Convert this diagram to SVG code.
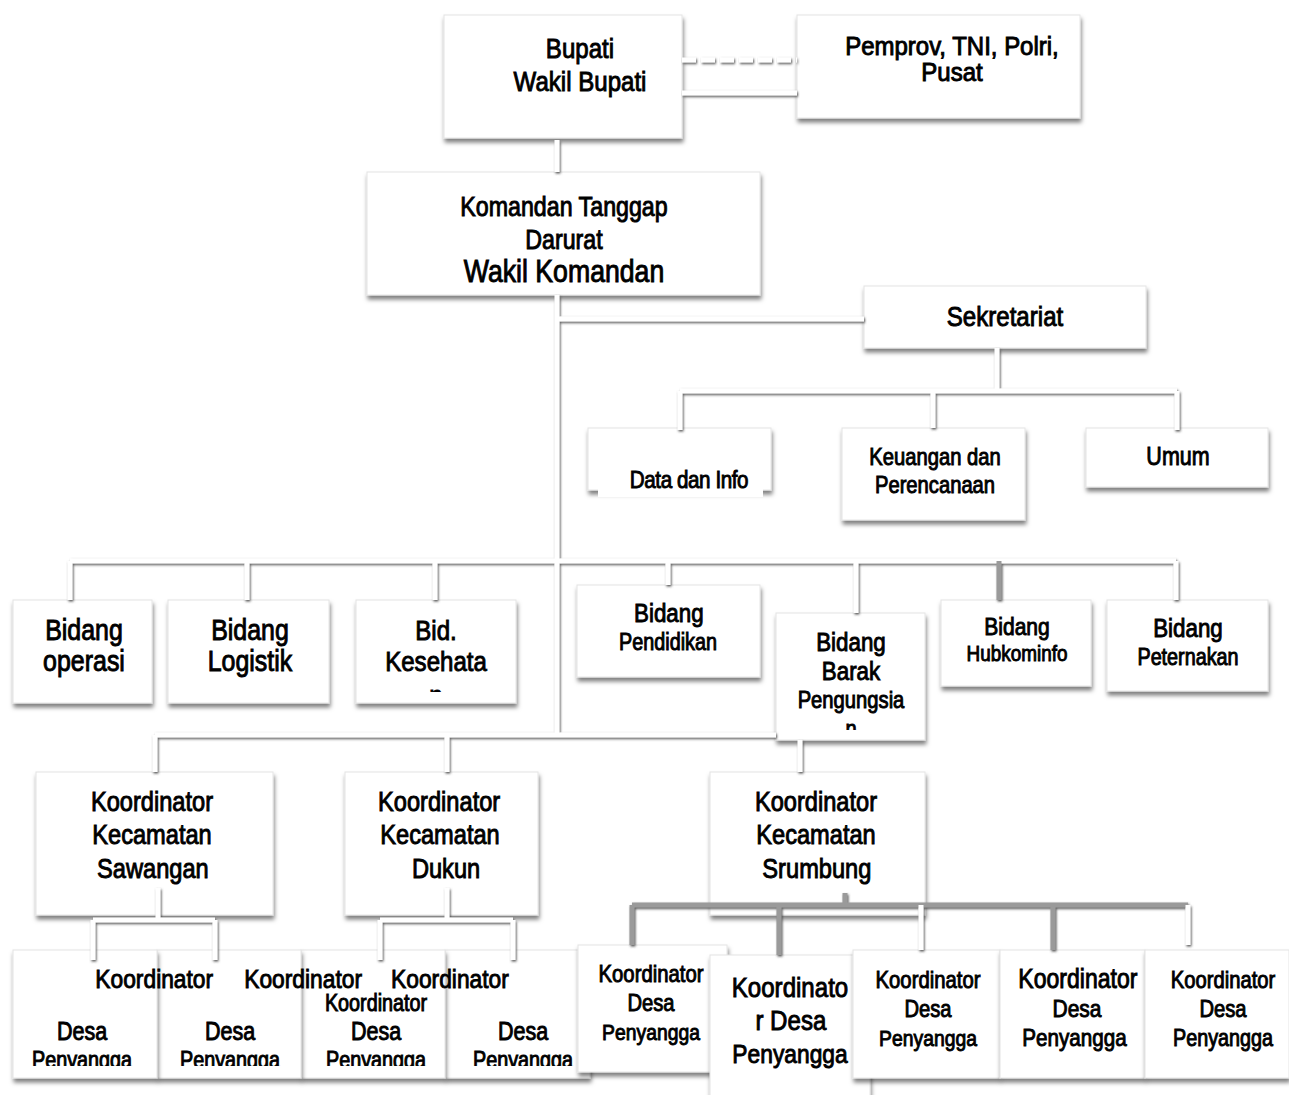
<svg xmlns="http://www.w3.org/2000/svg" width="1289" height="1095" viewBox="0 0 1289 1095">
<style>
.box{fill:#fff;stroke:#e4e4e4;stroke-width:1;filter:url(#bs)}
.t{font-family:"Liberation Sans",Arial,sans-serif;fill:#000;stroke:#000;stroke-width:0.95;text-anchor:middle}
.c{fill:none;stroke:#fff;stroke-width:5;stroke-linecap:butt}
.g{fill:none;stroke:#9a9a9a;stroke-width:5}
</style>
<defs>
<filter id="bs" x="-10%" y="-10%" width="125%" height="130%">
<feDropShadow dx="1" dy="4" stdDeviation="2" flood-color="#000" flood-opacity="0.5"/>
</filter>
<filter id="cs" x="-5%" y="-5%" width="110%" height="110%" filterUnits="userSpaceOnUse">
<feDropShadow dx="1" dy="1.5" stdDeviation="1.2" flood-color="#444" flood-opacity="0.9"/>
</filter>
<clipPath id="clipL"><rect x="0" y="940" width="600" height="126"/></clipPath>
<clipPath id="clipK"><rect x="356" y="600" width="160" height="92"/></clipPath>
<clipPath id="clipB"><rect x="776" y="613" width="149" height="117"/></clipPath>
</defs>

<g id="node-bupati">
<rect class="box" x="444" y="15" width="238" height="123"/>
<text class="t" font-size="28" transform="translate(580 0) scale(0.86 1)"><tspan x="0" y="58">Bupati</tspan><tspan x="0" y="91">Wakil Bupati</tspan></text>
</g>
<g id="node-pemprov">
<rect class="box" x="797" y="15" width="283" height="103"/>
<text class="t" font-size="25.5" transform="translate(952 0) scale(0.94 1)"><tspan x="0" y="55">Pemprov, TNI, Polri,</tspan><tspan x="0" y="81">Pusat</tspan></text>
</g>
<g id="node-komandan">
<rect class="box" x="367" y="172" width="393" height="123"/>
<text class="t" font-size="27" transform="translate(564 0) scale(0.86 1)"><tspan x="0" y="216">Komandan Tanggap</tspan><tspan x="0" y="249">Darurat</tspan><tspan x="0" y="282" font-size="31">Wakil Komandan</tspan></text>
</g>
<g id="node-sekretariat">
<rect class="box" x="864" y="286" width="282" height="62"/>
<text class="t" font-size="28" transform="translate(1005 0) scale(0.86 1)"><tspan x="0" y="326">Sekretariat</tspan></text>
</g>
<g id="node-datainfo">
<rect class="box" x="588" y="428" width="183" height="62"/>
<rect x="598" y="489" width="165" height="8" fill="#fff"/>
<text class="t" font-size="24" letter-spacing="-0.5" transform="translate(689 0) scale(0.86 1)"><tspan x="0" y="488">Data dan Info</tspan></text>
</g>
<g id="node-keuangan">
<rect class="box" x="842" y="428" width="183" height="92"/>
<text class="t" font-size="23.5" transform="translate(935 0) scale(0.86 1)"><tspan x="0" y="465">Keuangan dan</tspan><tspan x="0" y="493">Perencanaan</tspan></text>
</g>
<g id="node-umum">
<rect class="box" x="1086" y="428" width="182" height="59"/>
<text class="t" font-size="25" transform="translate(1178 0) scale(0.86 1)"><tspan x="0" y="465">Umum</tspan></text>
</g>

<g id="node-operasi">
<rect class="box" x="13" y="600" width="139" height="103"/>
<text class="t" font-size="29" transform="translate(84 0) scale(0.86 1)"><tspan x="0" y="640">Bidang</tspan><tspan x="0" y="671">operasi</tspan></text>
</g>
<g id="node-logistik">
<rect class="box" x="168" y="600" width="161" height="103"/>
<text class="t" font-size="29" transform="translate(250 0) scale(0.86 1)"><tspan x="0" y="640">Bidang</tspan><tspan x="0" y="671">Logistik</tspan></text>
</g>
<g id="node-kesehatan">
<rect class="box" x="356" y="600" width="160" height="103"/>
<g clip-path="url(#clipK)">
<text class="t" font-size="28" transform="translate(436 0) scale(0.86 1)"><tspan x="0" y="640">Bid.</tspan><tspan x="0" y="671">Kesehata</tspan><tspan x="0" y="705">n</tspan></text>
</g>
</g>
<g id="node-pendidikan">
<rect class="box" x="577" y="585" width="183" height="92"/>
<text class="t" transform="translate(668 0) scale(0.86 1)"><tspan x="1" y="622" font-size="26">Bidang</tspan><tspan x="0" y="650" font-size="23">Pendidikan</tspan></text>
</g>
<g id="node-barak">
<rect class="box" x="776" y="613" width="149" height="127"/>
<g clip-path="url(#clipB)">
<text class="t" transform="translate(851 0) scale(0.86 1)"><tspan x="0" y="651" font-size="26">Bidang</tspan><tspan x="0" y="680" font-size="26">Barak</tspan><tspan x="0" y="708" font-size="23.5">Pengungsia</tspan><tspan x="0" y="737" font-size="23.5">n</tspan></text>
</g>
</g>
<g id="node-hubkominfo">
<rect class="box" x="941" y="600" width="150" height="86"/>
<text class="t" transform="translate(1017 0) scale(0.86 1)"><tspan x="0" y="635" font-size="24.5">Bidang</tspan><tspan x="0" y="661" font-size="22">Hubkominfo</tspan></text>
</g>
<g id="node-peternakan">
<rect class="box" x="1107" y="600" width="161" height="91"/>
<text class="t" transform="translate(1188 0) scale(0.86 1)"><tspan x="0" y="637" font-size="26">Bidang</tspan><tspan x="0" y="665" font-size="23">Peternakan</tspan></text>
</g>

<g id="node-sawangan">
<rect class="box" x="36" y="772" width="237" height="143"/>
<text class="t" font-size="27.5" transform="translate(152 0) scale(0.86 1)"><tspan x="0" y="811">Koordinator</tspan><tspan x="0" y="844">Kecamatan</tspan><tspan x="1" y="878">Sawangan</tspan></text>
</g>
<g id="node-dukun">
<rect class="box" x="345" y="772" width="193" height="143"/>
<text class="t" font-size="27.5" transform="translate(440 0) scale(0.86 1)"><tspan x="-1" y="811">Koordinator</tspan><tspan x="0" y="844">Kecamatan</tspan><tspan x="7" y="878">Dukun</tspan></text>
</g>
<g id="node-srumbung">
<rect class="box" x="710" y="772" width="215" height="143"/>
<text class="t" font-size="27.5" transform="translate(816 0) scale(0.86 1)"><tspan x="0" y="811">Koordinator</tspan><tspan x="0" y="844">Kecamatan</tspan><tspan x="1" y="878">Srumbung</tspan></text>
</g>

<g id="node-desa-d">
<rect class="box" x="445" y="950" width="145" height="128"/>
<g clip-path="url(#clipL)"><text class="t" transform="translate(523 0) scale(0.86 1)"><tspan x="0" y="1040" font-size="25">Desa</tspan><tspan x="0" y="1068" font-size="23">Penyangga</tspan></text></g>
</g>
<g id="node-desa-c">
<rect class="box" x="301" y="950" width="144" height="128"/>
<g clip-path="url(#clipL)"><text class="t" transform="translate(376 0) scale(0.86 1)"><tspan x="86" y="988" font-size="26.5">Koordinator</tspan><tspan x="0" y="1011" font-size="23">Koordinator</tspan><tspan x="0" y="1040" font-size="25">Desa</tspan><tspan x="0" y="1068" font-size="23">Penyangga</tspan></text></g>
</g>
<g id="node-desa-b">
<rect class="box" x="157" y="950" width="144" height="128"/>
<g clip-path="url(#clipL)"><text class="t" transform="translate(230 0) scale(0.86 1)"><tspan x="85" y="988" font-size="26.5">Koordinator</tspan><tspan x="0" y="1040" font-size="25">Desa</tspan><tspan x="0" y="1068" font-size="23">Penyangga</tspan></text></g>
</g>
<g id="node-desa-a">
<rect class="box" x="13" y="950" width="144" height="128"/>
<g clip-path="url(#clipL)"><text class="t" transform="translate(82 0) scale(0.86 1)"><tspan x="84" y="988" font-size="26.5">Koordinator</tspan><tspan x="0" y="1040" font-size="25">Desa</tspan><tspan x="0" y="1068" font-size="23">Penyangga</tspan></text></g>
</g>

<g id="node-desa-e">
<rect class="box" x="578" y="945" width="149" height="127"/>
<text class="t" transform="translate(651 0) scale(0.86 1)"><tspan x="0" y="982" font-size="23.6">Koordinator</tspan><tspan x="0" y="1011" font-size="23.5">Desa</tspan><tspan x="0" y="1040" font-size="22.5">Penyangga</tspan></text>
</g>
<g id="node-desa-f">
<rect class="box" x="710" y="955" width="160" height="150"/>
<text class="t" transform="translate(790 0) scale(0.86 1)"><tspan x="0" y="997" font-size="28">Koordinato</tspan><tspan x="1" y="1030" font-size="28">r Desa</tspan><tspan x="0" y="1063" font-size="26.5">Penyangga</tspan></text>
</g>
<g id="node-desa-g">
<rect class="box" x="853" y="950" width="147" height="128"/>
<text class="t" transform="translate(928 0) scale(0.86 1)"><tspan x="0" y="988" font-size="23.6">Koordinator</tspan><tspan x="0" y="1017" font-size="23.5">Desa</tspan><tspan x="0" y="1046" font-size="22.5">Penyangga</tspan></text>
</g>
<g id="node-desa-h">
<rect class="box" x="1000" y="950" width="145" height="128"/>
<text class="t" transform="translate(1077 0) scale(0.86 1)"><tspan x="1" y="988" font-size="26.8">Koordinator</tspan><tspan x="0" y="1017" font-size="24.4">Desa</tspan><tspan x="-3" y="1046" font-size="24">Penyangga</tspan></text>
</g>
<g id="node-desa-i">
<rect class="box" x="1145" y="950" width="144" height="128"/>
<text class="t" transform="translate(1223 0) scale(0.86 1)"><tspan x="0" y="988" font-size="23.5">Koordinator</tspan><tspan x="0" y="1017" font-size="23.5">Desa</tspan><tspan x="0" y="1046" font-size="23">Penyangga</tspan></text>
</g>

<g id="connectors" filter="url(#cs)">
<path class="c" d="M557 140V172"/>
<path class="c" d="M682 60H797" stroke-dasharray="14 5"/>
<path class="c" d="M682 93H797"/>
<path class="c" d="M557 295V735"/>
<path class="c" d="M557 319H864"/>
<path class="c" d="M997 348V391M680 391H1177M680 391V430M933 391V428M1177 391V430"/>
<path class="c" d="M70 561H1176M70 561V600M247 561V600M435 561V600M668 561V585M856 561V613M1176 561V600"/>
<path class="g" d="M999 561V600"/>
<path class="c" d="M155 735H776M155 735V772M447 735V772M800 740V772"/>
<path class="c" d="M158 888V920M93 920H215M93 920V960M215 920V960"/>
<path class="c" d="M447 888V920M380 920H513M380 920V960M513 920V960"/>
<path class="g" d="M845 893V905M632 905H1188M632 905V945M779 905V955M1053 905V950"/>
<path class="c" d="M921 905V950M1188 905V945"/>
</g>
</svg>
